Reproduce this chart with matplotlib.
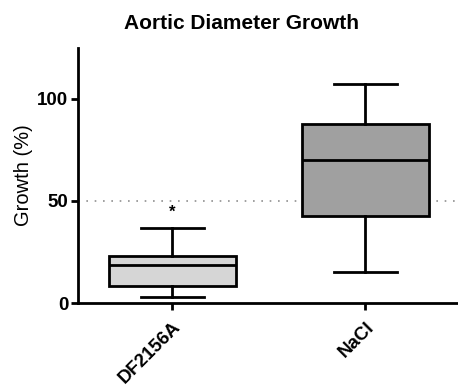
import matplotlib.pyplot as plt

plt.rcParams['font.family'] = ['Liberation Sans', 'DejaVu Sans']

groups = ["DF2156A", "NaCl"]
whislo = [3.1, 15.2]
q1 = [8.1, 42.4]
med = [18.8, 70.3]
q3 = [22.9, 87.8]
whishi = [36.6, 107.4]
colors = ["#d6d6d6", "#a0a0a0"]
star_y = 44.5
ref_line = 50

stats = []
for i in range(len(groups)):
    stats.append(dict(label=groups[i], whislo=whislo[i], q1=q1[i], med=med[i],
                      q3=q3[i], whishi=whishi[i], fliers=[]))

fig = plt.figure(figsize=(4.58, 3.86), dpi=100)
ax = fig.add_axes([0.170, 0.215, 0.830, 0.661])

ax.axhline(ref_line, color="#909090", lw=1.2, ls=(0, (1, 4)), zorder=0)

bp = ax.bxp(stats, positions=[0, 1], widths=0.66, patch_artist=True,
            showfliers=False,
            boxprops=dict(lw=2, edgecolor="black"),
            medianprops=dict(lw=2, color="black"),
            whiskerprops=dict(lw=2, color="black"),
            capprops=dict(lw=2, color="black"),
            capwidths=0.33)
for patch, c in zip(bp["boxes"], colors):
    patch.set_facecolor(c)

ax.text(0, star_y, "*", ha="center", va="center", fontsize=12, fontweight="bold")

ax.set_xlim(-0.49, 1.48)
ax.set_ylim(0, 125)
ax.set_yticks([0, 50, 100])
ax.set_xticks([0, 1])
ax.set_xticklabels(groups, rotation=45, ha="right", rotation_mode="anchor",
                   fontsize=13.5, fontweight="bold")
for lab in ax.get_yticklabels():
    lab.set_fontsize(13.5)
    lab.set_fontweight("bold")

ax.spines["top"].set_visible(False)
ax.spines["right"].set_visible(False)
ax.spines["left"].set_linewidth(2)
ax.spines["bottom"].set_linewidth(2)
ax.tick_params(width=2, length=5, pad=2)
ax.tick_params(axis="x", pad=6)

ax.set_ylabel("Growth (%)", fontsize=14.5, labelpad=3)
fig.suptitle("Aortic Diameter Growth", x=0.527, y=0.965, fontsize=15, fontweight="bold")

fig.savefig("out.png", dpi=100)
